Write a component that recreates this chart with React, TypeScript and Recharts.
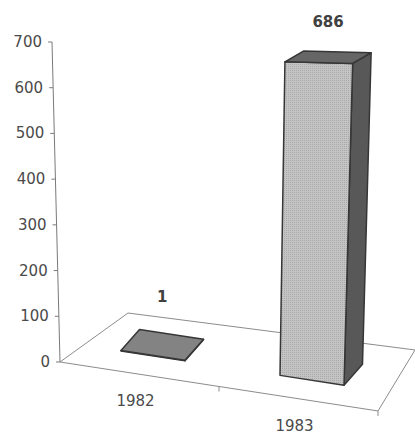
import React from 'react'
import { BarChart, Bar, XAxis, YAxis, LabelList } from 'recharts'

const years = ['1982', '1983']
const counts = [1, 686]
const yTicks = [0, 100, 200, 300, 400, 500, 600, 700]

const data = years.map((year, i) => ({ year, count: counts[i] }))

const W = 415
const H = 435
const PLOT_LEFT = 60
const PLOT_TOP = 42
const PLOT_W = 318
const PLOT_H = 320
const BASE_Y = PLOT_TOP + PLOT_H

// fake 3d: the floor's front edge drops to the right, depth runs up and to the right
const SLOPE = 0.154
const FRONT = { dx: 13, dy: -18.5 }
const DEPTH = { dx: 18.5, dy: -21 }
const FLOOR_BACK_LEFT = { dx: 68, dy: -49 }
const FLOOR_BACK_RIGHT = { dx: 37, dy: -61 }

const FONT = '"DejaVu Sans", Verdana, sans-serif'
const TEXT = '#4a4a4a'

// verticals splay out slightly away from the middle of the floor
const lean = (x: number, h: number) => (x - 195) * h * 0.000185
const floorY = (x: number) => BASE_Y + (x - PLOT_LEFT) * SLOPE

type Pt = [number, number]

function box(x: number, w: number, h: number) {
  const t = h / PLOT_H
  const fbl: Pt = [x + FRONT.dx, floorY(x) + FRONT.dy]
  const fbr: Pt = [fbl[0] + w, fbl[1] + w * SLOPE]
  const bbr: Pt = [fbr[0] + DEPTH.dx, fbr[1] + DEPTH.dy]
  const ftl: Pt = [fbl[0] + lean(fbl[0], h), fbl[1] - h]
  const ftr: Pt = [fbr[0] + lean(fbr[0], h), ftl[1] + w * SLOPE * (1 - 0.85 * t)]
  const ddy = DEPTH.dy * (1 - 0.5 * t)
  const btl: Pt = [ftl[0] + DEPTH.dx, ftl[1] + ddy]
  const btr: Pt = [ftr[0] + DEPTH.dx, ftr[1] + ddy]
  return { fbl, fbr, bbr, ftl, ftr, btl, btr }
}

const pts = (list: Pt[]) => list.map(p => `${p[0]},${p[1]}`).join(' ')

function BoxShape(props: any) {
  const x = Number(props.x)
  const w = Number(props.width)
  const h = Math.max(0, Number(props.height) || 0)
  const b = box(x, w, h)
  const edge = '#363636'
  return (
    <g strokeLinejoin="round">
      <defs>
        <pattern id="frontDots" width="2" height="2" patternUnits="userSpaceOnUse">
          <rect width="2" height="2" fill="#c4c4c4" />
          <rect width="1" height="1" fill="#a9a9a9" />
        </pattern>
      </defs>
      <polygon points={pts([b.fbr, b.bbr, b.btr, b.ftr])} fill="#585858" stroke={edge} strokeWidth={1.5} />
      <polygon points={pts([b.fbl, b.fbr, b.ftr, b.ftl])} fill="url(#frontDots)" stroke={edge} strokeWidth={1.5} />
      <polygon points={pts([b.ftl, b.ftr, b.btr, b.btl])} fill={h > 5 ? '#666666' : '#838383'} stroke={edge} strokeWidth={1.5} />
    </g>
  )
}

function ValueLabel(props: any) {
  const x = Number(props.x)
  const w = Number(props.width)
  const h = Math.max(0, Number(props.height) || 0)
  const b = box(x, w, h)
  const cx = (b.ftl[0] + b.ftr[0] + b.btl[0] + b.btr[0]) / 4
  const cy = (b.ftl[1] + b.ftr[1] + b.btl[1] + b.btr[1]) / 4
  const off = 48 - (13 * h) / PLOT_H
  return (
    <text x={cx} y={cy - off} textAnchor="middle" dominantBaseline="central"
      fontFamily={FONT} fontSize={15} fontWeight="bold" fill="#404040">
      {props.value}
    </text>
  )
}

function YTick(props: any) {
  const y = Number(props.y)
  const h = BASE_Y - y
  const ax = PLOT_LEFT + lean(PLOT_LEFT, h)
  return (
    <g>
      {props.payload.value === 0 && (
        <line x1={PLOT_LEFT} y1={BASE_Y} x2={PLOT_LEFT + lean(PLOT_LEFT, PLOT_H)} y2={PLOT_TOP}
          stroke="#7a7a7a" strokeWidth={1} />
      )}
      <line x1={ax - 4} y1={y} x2={ax} y2={y} stroke="#7a7a7a" strokeWidth={1} />
      <text x={ax - 10} y={y} textAnchor="end" dominantBaseline="central"
        fontFamily={FONT} fontSize={15} fill={TEXT}>
        {props.payload.value}
      </text>
    </g>
  )
}

function XTick(props: any) {
  const x = Number(props.x)
  return (
    <text x={x - 4} y={floorY(x) + 27} textAnchor="middle" dominantBaseline="central"
      fontFamily={FONT} fontSize={15} fill={TEXT}>
      {props.payload.value}
    </text>
  )
}

// floor parallelogram plus the category boundary ticks along its front edge
function Floor() {
  const fl: Pt = [PLOT_LEFT, BASE_Y]
  const fr: Pt = [PLOT_LEFT + PLOT_W, floorY(PLOT_LEFT + PLOT_W)]
  const bl: Pt = [fl[0] + FLOOR_BACK_LEFT.dx, fl[1] + FLOOR_BACK_LEFT.dy]
  const br: Pt = [fr[0] + FLOOR_BACK_RIGHT.dx, fr[1] + FLOOR_BACK_RIGHT.dy]
  const band = PLOT_W / years.length
  const bounds = years.map((_, i) => PLOT_LEFT + band * (i + 1))
  return (
    <g>
      <polygon points={pts([fl, fr, br, bl])} fill="none" stroke="#8c8c8c" strokeWidth={1} />
      {bounds.map(bx => (
        <line key={bx} x1={bx} y1={floorY(bx)} x2={bx} y2={floorY(bx) + 5} stroke="#8c8c8c" strokeWidth={1} />
      ))}
    </g>
  )
}

export default function App() {
  return (
    <div style={{ position: 'absolute', left: 0, top: 0, width: W, height: H, background: '#fff' }}>
      <BarChart width={W} height={H} data={data} margin={{ top: PLOT_TOP, right: W - PLOT_LEFT - PLOT_W, bottom: 0, left: 0 }}>
        <Floor />
        <XAxis dataKey="year" axisLine={false} tickLine={false} height={H - BASE_Y} interval={0} tick={<XTick />} />
        <YAxis domain={[0, 700]} ticks={yTicks} interval={0} axisLine={false} tickLine={false} width={PLOT_LEFT} tick={<YTick />} />
        <Bar dataKey="count" barSize={64} shape={<BoxShape />} isAnimationActive={false}>
          <LabelList dataKey="count" content={<ValueLabel />} />
        </Bar>
      </BarChart>
    </div>
  )
}
